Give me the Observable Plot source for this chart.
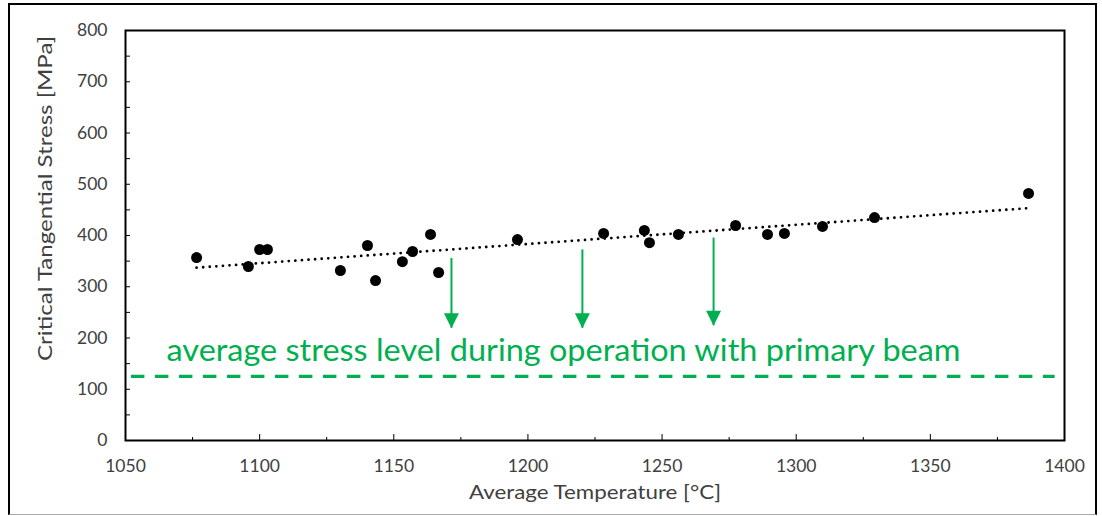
<!DOCTYPE html>
<html><head><meta charset="utf-8">
<script src="https://cdn.jsdelivr.net/npm/d3@7"></script>
<script src="https://cdn.jsdelivr.net/npm/@observablehq/plot@0.6"></script>
<style>
body{margin:0;background:#fff;}
#wrap{position:relative;width:1102px;height:516px;overflow:hidden;background:#fff;}
#border{position:absolute;left:8px;top:3px;width:1089px;height:512px;border:2px solid #000;border-bottom:1px solid #aaa;box-sizing:border-box;z-index:2;pointer-events:none;}
#chart{position:absolute;left:0;top:0;z-index:1;}
</style></head><body>
<div id="wrap"><div id="border"></div><div id="chart"></div></div>
<script>
// Measured data points
const temperature = [1076.5, 1095.8, 1100.0, 1102.9, 1130.1, 1140.2, 1143.2, 1153.2, 1157.0, 1163.7, 1166.7,
                     1196.1, 1228.2, 1243.4, 1245.3, 1256.1, 1277.4, 1289.3, 1295.6, 1309.8, 1329.2, 1386.6];
const stress      = [357, 339.5, 372.7, 372.7, 331.7, 380.5, 312, 349, 368.8, 402, 327.8,
                     392, 404, 409.8, 386, 402, 419.5, 402, 404, 417.6, 435, 482];

// Annotation arrows (green)
const arrowX   = [1171.5, 1220.3, 1269.2];
const arrowTop = [355, 372, 395];
const arrowTip = [219, 219, 224];

// Operating stress level (dashed line)
const operatingStress = 125;
const operatingRange = [1052.2, 1396.5];
const annotationText = "average stress level during operation with primary beam";
const annotationPos = [1065.3, 156];

const xTicks = [1050, 1100, 1150, 1200, 1250, 1300, 1350, 1400];
const xMinorTicks = [1075, 1125, 1175, 1225, 1275, 1325, 1375];
const yTicks = [0, 100, 200, 300, 400, 500, 600, 700, 800];
const yMinorTicks = [0, 50, 100, 150, 200, 250, 300, 350, 400, 450, 500, 550, 600, 650, 700, 750, 800];

const xTitle = "Average Temperature [°C]";
const yTitle = "Critical Tangential Stress [MPa]";

const GREEN = "#00B050";
const AXIS_TEXT = "#404040";

const points = temperature.map((t, i) => ({t, s: stress[i]}));
const arrows = arrowX.map((x, i) => ({x, top: arrowTop[i], tip: arrowTip[i]}));

const arrowHead = {
  draw(ctx) {
    ctx.moveTo(0, 0);
    ctx.lineTo(-7.5, -15);
    ctx.lineTo(7.5, -15);
    ctx.closePath();
  }
};

const chart = Plot.plot({
  width: 1102,
  height: 516,
  marginLeft: 125,
  marginRight: 38,
  marginTop: 30,
  marginBottom: 76,
  style: {fontFamily: "Lato, 'Open Sans', sans-serif", fontSize: "17px", background: "transparent"},
  x: {domain: [1050, 1400]},
  y: {domain: [0, 800]},
  marks: [
    Plot.axisX(xTicks, {tickSize: 0, tickPadding: 19, fontSize: 17.5, color: AXIS_TEXT, label: null, tickFormat: d3.format("d")}),
    Plot.axisX(xTicks, {tickSize: 6, dy: -6, fill: "none", stroke: "#000", label: null}),
    Plot.axisX(xMinorTicks, {tickSize: 3, dy: -3, fill: "none", stroke: "#000", label: null}),
    Plot.axisY(yTicks, {tickSize: 0, tickPadding: 18, fontSize: 17.5, color: AXIS_TEXT, label: null, tickFormat: d3.format("d")}),
    Plot.axisY(yMinorTicks, {tickSize: 5, dx: 5, fill: "none", stroke: "#000", label: null}),
    Plot.frame({stroke: "#000", strokeWidth: 2}),
    Plot.ruleY([operatingStress], {x1: operatingRange[0], x2: operatingRange[1], stroke: GREEN, strokeWidth: 3.3, strokeDasharray: "13.5 10.5"}),
    Plot.text([annotationText], {x: annotationPos[0], y: annotationPos[1], text: d => d, textAnchor: "start", lineAnchor: "bottom", fill: GREEN, fontSize: 30}),
    Plot.ruleX(arrows, {x: "x", y1: "top", y2: "tip", stroke: GREEN, strokeWidth: 2}),
    Plot.dot(arrows, {x: "x", y: "tip", symbol: arrowHead, fill: GREEN, stroke: "none"}),
    Plot.linearRegressionY(points, {x: "t", y: "s", ci: 0, stroke: "#000", strokeWidth: 2.8, strokeDasharray: "0 6.6", strokeLinecap: "round"}),
    Plot.dot(points, {x: "t", y: "s", r: 5.5, fill: "#000", stroke: "none"}),
    Plot.text([yTitle], {frameAnchor: "left", textAnchor: "middle", rotate: -90, dx: -80, dy: -37, text: d => d, fontSize: 19, fill: AXIS_TEXT}),
    Plot.text([xTitle], {frameAnchor: "bottom", textAnchor: "middle", dy: 58, text: d => d, fontSize: 19, fill: AXIS_TEXT})
  ]
});
document.getElementById("chart").appendChild(chart);

// fit text widths to the reference spans
const fitLengths = new Map([[annotationText, 794], [yTitle, 325], [xTitle, 252]]);
chart.querySelectorAll("text").forEach(el => {
  const L = fitLengths.get(el.textContent);
  if (L) {
    el.setAttribute("textLength", L);
    el.setAttribute("lengthAdjust", "spacingAndGlyphs");
  }
});
</script>
</body></html>
